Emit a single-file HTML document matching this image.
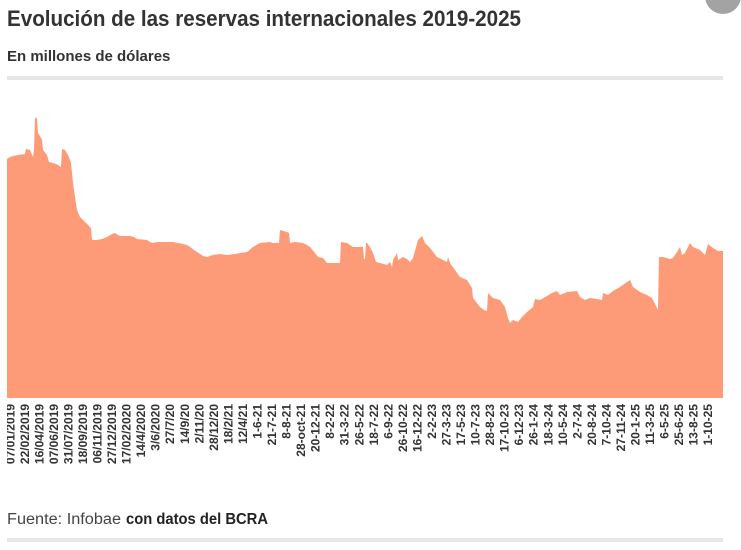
<!DOCTYPE html>
<html>
<head>
<meta charset="utf-8">
<style>
html,body{margin:0;padding:0;background:#fff;}
body{width:741px;height:550px;overflow:hidden;}
svg{display:block;}
text{font-family:"Liberation Sans",Arial,sans-serif;}
</style>
</head>
<body>
<svg width="741" height="550" viewBox="0 0 741 550" xmlns="http://www.w3.org/2000/svg">
  <defs>
    <clipPath id="clipL"><rect x="7" y="0" width="734" height="550"/></clipPath>
  </defs>
  <!-- top-right circle -->
  <circle cx="723" cy="-4" r="18" fill="#a3a3a3"/>
  <!-- title -->
  <text x="7" y="26" font-size="22" font-weight="700" fill="#333" textLength="514" lengthAdjust="spacingAndGlyphs">Evolución de las reservas internacionales 2019-2025</text>
  <text x="7" y="61" font-size="15" font-weight="700" fill="#333">En millones de dólares</text>
  <rect x="7" y="76" width="716" height="4" fill="#e6e6e6"/>

  <!-- area -->
  <polygon fill="#fd9a77" points="7,398 7,159 10,157 13,156 18,155 25,154 26,149 30,150 33,157 34,150 35,117 37,119 38,133 40,136 42,140 43,150 47,155 49,162 53,163 56,164 58,165 61,167 62,149 65,150 68,155 70,160 71,163 73,183 75,197 77,210 80,217 85,222 89,226 91,228 92,240 97,240 102,239 107,237 112,234 115,233 118,235 120,236 130,236 134,237 137,239 147,240 150,242 153,243 157,242 173,242 178,243 183,244 187,245 190,247 194,250 197,252 203,256 207,257 213,255 220,254 227,255 235,254 240,253 247,252 253,247 260,243 270,242 273,243 279,243 280,230 287,232 289,233 290,243 295,242 303,243 307,245 310,247 315,253 318,257 323,258 327,263 332,263 340,263 341,242 347,243 353,247 363,247 364,259 365,259 366,243 367,243 370,247 373,253 376,262 380,263 387,265 390,262 392,267 393,260 397,253 398,260 403,257 407,259 410,262 413,258 418,240 422,236 425,243 430,248 437,257 443,260 447,262 448,257 450,263 455,270 460,277 467,280 472,288 473,298 477,303 480,307 484,310 487,311 488,293 493,298 500,300 505,307 508,318 510,323 513,320 518,322 522,317 527,312 533,307 535,299 540,300 547,296 552,293 557,291 560,295 567,292 577,291 580,297 585,300 590,298 597,299 602,300 603,293 608,295 613,291 620,287 627,282 630,280 633,287 640,292 647,295 652,298 657,308 658,310 659,257 663,257 670,259 673,258 677,252 680,247 682,255 685,253 690,243 693,247 700,250 705,255 708,244 713,248 718,251 723,251 723,398"/>

  <!-- x labels -->
  <g clip-path="url(#clipL)" font-size="12" font-weight="700" fill="#333" text-anchor="end">
    <text transform="translate(14.3,404) rotate(-90)">07/01/2019</text>
    <text transform="translate(28.8,404) rotate(-90)">22/02/2019</text>
    <text transform="translate(43.4,404) rotate(-90)">16/04/2019</text>
    <text transform="translate(57.9,404) rotate(-90)">07/06/2019</text>
    <text transform="translate(72.5,404) rotate(-90)">31/07/2019</text>
    <text transform="translate(87.0,404) rotate(-90)">18/09/2019</text>
    <text transform="translate(101.5,404) rotate(-90)">06/11/2019</text>
    <text transform="translate(116.1,404) rotate(-90)">27/12/2019</text>
    <text transform="translate(130.6,404) rotate(-90)">17/02/2020</text>
    <text transform="translate(145.2,404) rotate(-90)">14/4/2020</text>
    <text transform="translate(159.7,404) rotate(-90)">3/6/2020</text>
    <text transform="translate(174.2,404) rotate(-90)">27/7/20</text>
    <text transform="translate(188.8,404) rotate(-90)">14/9/20</text>
    <text transform="translate(203.3,404) rotate(-90)">2/11/20</text>
    <text transform="translate(217.9,404) rotate(-90)">28/12/20</text>
    <text transform="translate(232.4,404) rotate(-90)">18/2/21</text>
    <text transform="translate(246.9,404) rotate(-90)">12/4/21</text>
    <text transform="translate(261.5,404) rotate(-90)">1-6-21</text>
    <text transform="translate(276.0,404) rotate(-90)">21-7-21</text>
    <text transform="translate(290.6,404) rotate(-90)">8-8-21</text>
    <text transform="translate(305.1,404) rotate(-90)">28-oct-21</text>
    <text transform="translate(319.6,404) rotate(-90)">20-12-21</text>
    <text transform="translate(334.2,404) rotate(-90)">8-2-22</text>
    <text transform="translate(348.7,404) rotate(-90)">31-3-22</text>
    <text transform="translate(363.3,404) rotate(-90)">26-5-22</text>
    <text transform="translate(377.8,404) rotate(-90)">18-7-22</text>
    <text transform="translate(392.3,404) rotate(-90)">6-9-22</text>
    <text transform="translate(406.9,404) rotate(-90)">26-10-22</text>
    <text transform="translate(421.4,404) rotate(-90)">16-12-22</text>
    <text transform="translate(436.0,404) rotate(-90)">2-2-23</text>
    <text transform="translate(450.5,404) rotate(-90)">27-3-23</text>
    <text transform="translate(465.0,404) rotate(-90)">17-5-23</text>
    <text transform="translate(479.6,404) rotate(-90)">10-7-23</text>
    <text transform="translate(494.1,404) rotate(-90)">28-8-23</text>
    <text transform="translate(508.7,404) rotate(-90)">17-10-23</text>
    <text transform="translate(523.2,404) rotate(-90)">6-12-23</text>
    <text transform="translate(537.7,404) rotate(-90)">26-1-24</text>
    <text transform="translate(552.3,404) rotate(-90)">18-3-24</text>
    <text transform="translate(566.8,404) rotate(-90)">10-5-24</text>
    <text transform="translate(581.4,404) rotate(-90)">2-7-24</text>
    <text transform="translate(595.9,404) rotate(-90)">20-8-24</text>
    <text transform="translate(610.4,404) rotate(-90)">7-10-24</text>
    <text transform="translate(625.0,404) rotate(-90)">27-11-24</text>
    <text transform="translate(639.5,404) rotate(-90)">20-1-25</text>
    <text transform="translate(654.1,404) rotate(-90)">11-3-25</text>
    <text transform="translate(668.6,404) rotate(-90)">6-5-25</text>
    <text transform="translate(683.1,404) rotate(-90)">25-6-25</text>
    <text transform="translate(697.7,404) rotate(-90)">13-8-25</text>
    <text transform="translate(712.2,404) rotate(-90)">1-10-25</text>
  </g>

  <!-- footer -->
  <text x="7" y="524" font-size="15.5" fill="#444" textLength="114" lengthAdjust="spacingAndGlyphs">Fuente: Infobae</text>
  <text x="126" y="524" font-size="15.5" font-weight="700" fill="#222" textLength="142" lengthAdjust="spacingAndGlyphs">con datos del BCRA</text>
  <rect x="7" y="538" width="716" height="4" fill="#e6e6e6"/>
</svg>
</body>
</html>
